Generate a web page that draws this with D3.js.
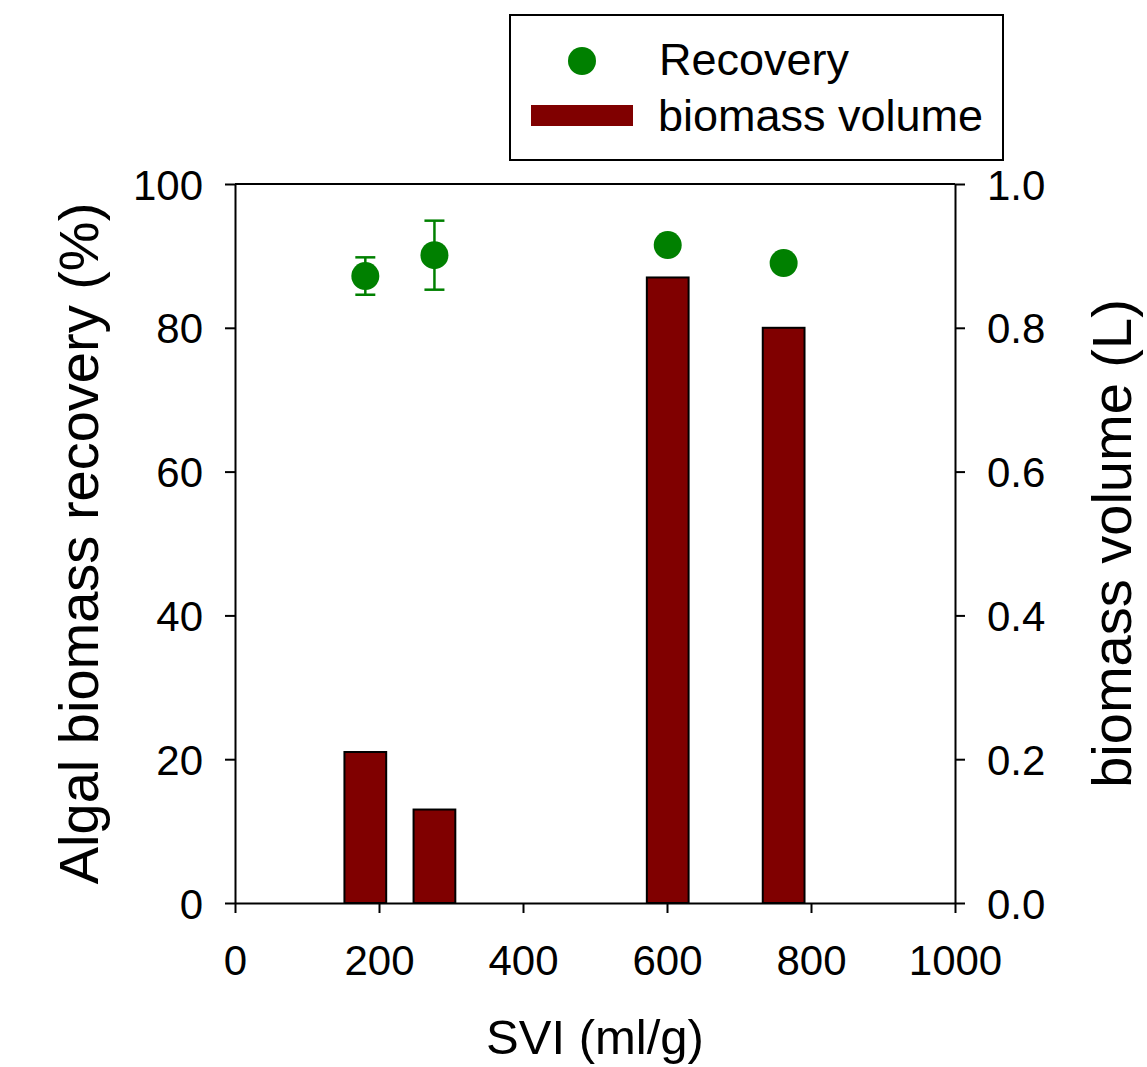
<!DOCTYPE html>
<html>
<head>
<meta charset="utf-8">
<script src="https://cdn.jsdelivr.net/npm/d3@7"></script>
<style>
  body { margin: 0; background: #fff; }
  svg { display: block; font-family: "Liberation Sans", Arial, sans-serif; }
</style>
</head>
<body>
<div id="chart"></div>
<script>
// data
const svi = [181, 277, 601, 762];
const recovery = [87.2, 90.1, 91.5, 89.0];
const recoveryErr = [2.6, 4.8, 0, 0];
const volume = [0.21, 0.13, 0.87, 0.80];

const xTicks = [0, 200, 400, 600, 800, 1000];
const leftTicks = [0, 20, 40, 60, 80, 100];
const rightTicks = [0, 0.2, 0.4, 0.6, 0.8, 1.0];

const width = 1147, height = 1067;
const plot = { left: 235, right: 955, top: 184, bottom: 903 };
const barHalf = 29; // in SVI units
const green = "#008000", maroon = "#800000";

const svg = d3.select("#chart").append("svg")
    .attr("width", width).attr("height", height);

const x = d3.scaleLinear().domain([0, 1000]).range([plot.left, plot.right]);
const yL = d3.scaleLinear().domain([0, 100]).range([plot.bottom, plot.top]);
const yR = d3.scaleLinear().domain([0, 1]).range([plot.bottom, plot.top]);

// bars
svg.append("g").selectAll("rect")
    .data(volume)
    .join("rect")
    .attr("x", (d, i) => x(svi[i] - barHalf))
    .attr("width", (d, i) => x(svi[i] + barHalf) - x(svi[i] - barHalf))
    .attr("y", d => yR(d))
    .attr("height", d => yR(0) - yR(d))
    .attr("fill", maroon)
    .attr("stroke", "#000")
    .attr("stroke-width", 2);

// frame: top line
svg.append("line")
    .attr("x1", plot.left).attr("x2", plot.right)
    .attr("y1", plot.top).attr("y2", plot.top)
    .attr("stroke", "#000").attr("stroke-width", 2);

function styleAxis(g) {
    g.selectAll(".domain").attr("stroke", "#000").attr("stroke-width", 2);
    g.selectAll(".tick line").attr("stroke", "#000").attr("stroke-width", 2);
    g.selectAll(".tick text").attr("fill", "#000")
        .style("font-size", "42px").style("font-family", "'Liberation Sans', Arial, sans-serif");
}

svg.append("g")
    .attr("transform", `translate(0,${plot.bottom})`)
    .call(d3.axisBottom(x).tickValues(xTicks).tickSize(10).tickSizeOuter(0).tickPadding(32)
        .tickFormat(d3.format("d")))
    .call(styleAxis);

svg.append("g")
    .attr("transform", `translate(${plot.left},0)`)
    .call(d3.axisLeft(yL).tickValues(leftTicks).tickSize(10).tickSizeOuter(0).tickPadding(22))
    .call(styleAxis)
    .selectAll(".tick text").attr("dy", "0.36em");

svg.append("g")
    .attr("transform", `translate(${plot.right},0)`)
    .call(d3.axisRight(yR).tickValues(rightTicks).tickSize(10).tickSizeOuter(0).tickPadding(22)
        .tickFormat(d3.format(".1f")))
    .call(styleAxis)
    .selectAll(".tick text").attr("dy", "0.36em");

// error bars
const eb = svg.append("g").attr("stroke", green).attr("stroke-width", 2.5);
svi.forEach((s, i) => {
    if (!recoveryErr[i]) return;
    const cx = x(s);
    const lo = yL(recovery[i] - recoveryErr[i]);
    const hi = yL(recovery[i] + recoveryErr[i]);
    eb.append("line").attr("x1", cx).attr("x2", cx).attr("y1", lo).attr("y2", hi);
    eb.append("line").attr("x1", cx - 10).attr("x2", cx + 10).attr("y1", lo).attr("y2", lo);
    eb.append("line").attr("x1", cx - 10).attr("x2", cx + 10).attr("y1", hi).attr("y2", hi);
});

// points
svg.append("g").selectAll("circle")
    .data(recovery)
    .join("circle")
    .attr("cx", (d, i) => x(svi[i]))
    .attr("cy", d => yL(d))
    .attr("r", 14)
    .attr("fill", green);

// axis titles
svg.append("text")
    .attr("x", (plot.left + plot.right) / 2).attr("y", 1054)
    .attr("text-anchor", "middle")
    .style("font-size", "49px")
    .text("SVI (ml/g)");

svg.append("text")
    .attr("transform", `translate(98,${(plot.top + plot.bottom) / 2}) rotate(-90)`)
    .attr("text-anchor", "middle")
    .style("font-size", "56px")
    .text("Algal biomass recovery (%)");

svg.append("text")
    .attr("transform", `translate(1131,${(plot.top + plot.bottom) / 2}) rotate(-90)`)
    .attr("text-anchor", "middle")
    .style("font-size", "56px")
    .text("biomass volume (L)");

// legend
const lg = svg.append("g");
lg.append("rect")
    .attr("x", 510).attr("y", 15).attr("width", 493).attr("height", 145)
    .attr("fill", "#fff").attr("stroke", "#000").attr("stroke-width", 2);
lg.append("circle").attr("cx", 582).attr("cy", 61).attr("r", 14).attr("fill", green);
lg.append("rect").attr("x", 531).attr("y", 105).attr("width", 102).attr("height", 21).attr("fill", maroon);
lg.append("text").attr("x", 659).attr("y", 75).style("font-size", "45px").text("Recovery");
lg.append("text").attr("x", 658).attr("y", 131).style("font-size", "45px").text("biomass volume");
</script>
</body>
</html>
